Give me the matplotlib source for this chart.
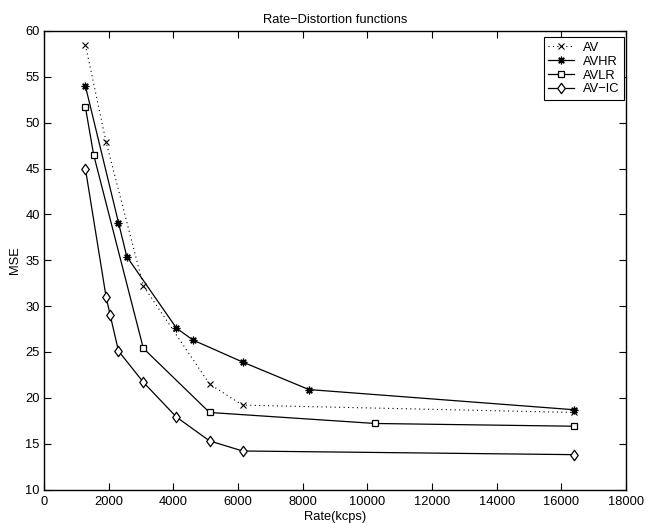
import matplotlib
matplotlib.use("Agg")
import matplotlib.pyplot as plt
from matplotlib.path import Path

plt.rcParams['font.family'] = ['Liberation Sans', 'DejaVu Sans']

av_x = [1280, 1920, 3072, 5120, 6144, 16384]
av_y = [58.5, 47.9, 32.2, 21.5, 19.2, 18.4]

avhr_x = [1280, 2304, 2560, 4096, 4608, 6144, 8192, 16384]
avhr_y = [54.0, 39.1, 35.4, 27.6, 26.3, 23.9, 20.9, 18.7]

avlr_x = [1280, 1536, 3072, 5120, 10240, 16384]
avlr_y = [51.7, 46.5, 25.4, 18.4, 17.2, 16.9]

avic_x = [1280, 1920, 2048, 2304, 3072, 4096, 5120, 6144, 16384]
avic_y = [45.0, 31.0, 29.0, 25.1, 21.7, 17.9, 15.3, 14.2, 13.8]

diamond = Path([(0, 1), (0.72, 0), (0, -1), (-0.72, 0), (0, 1)],
               [Path.MOVETO, Path.LINETO, Path.LINETO, Path.LINETO, Path.CLOSEPOLY])

fig = plt.figure(figsize=(6.46, 5.23), dpi=100)
ax = fig.add_axes([44/646, 1-489.5/523, (626-44)/646, (489.5-31)/523])

ax.plot(av_x, av_y, color='black', linestyle=(0, (1, 3)), linewidth=0.8,
        marker='x', markersize=4, markeredgewidth=0.8, label='AV')
ax.plot(avhr_x, avhr_y, color='black', linestyle='-', linewidth=0.9,
        marker=(8, 2, 0), markersize=5.5, markeredgewidth=0.9, label='AVHR')
ax.plot(avlr_x, avlr_y, color='black', linestyle='-', linewidth=0.9,
        marker='s', markersize=4.8, markerfacecolor='white', markeredgewidth=0.9, label='AVLR')
ax.plot(avic_x, avic_y, color='black', linestyle='-', linewidth=0.9,
        marker=diamond, markersize=7.5, markerfacecolor='white', markeredgewidth=0.9,
        label='AV\u2212IC')

ax.set_xlim(0, 18000)
ax.set_ylim(10, 60)
ax.set_xticks(range(0, 18001, 2000))
ax.set_yticks(range(10, 61, 5))
ax.tick_params(direction='in', top=True, right=True, labelsize=9.3, length=5, width=0.8, pad=3)
ax.tick_params(axis='x', pad=5)
for s in ax.spines.values():
    s.set_linewidth(1.0)

ax.set_xlabel('Rate(kcps)', fontsize=9.3, labelpad=2)
ax.set_ylabel('MSE', fontsize=9.3, labelpad=3)
ax.set_title('Rate\u2212Distortion functions', fontsize=9.3, pad=6)

leg = ax.legend(loc='upper right', bbox_to_anchor=(624/646, 1-37/523),
                bbox_transform=fig.transFigure, borderaxespad=0,
                fontsize=9.3, fancybox=False, edgecolor='black',
                framealpha=1, handlelength=2.0, handletextpad=0.7, borderpad=0.35,
                labelspacing=0.15)
leg.get_frame().set_linewidth(0.8)

fig.savefig('out.png', dpi=100)
